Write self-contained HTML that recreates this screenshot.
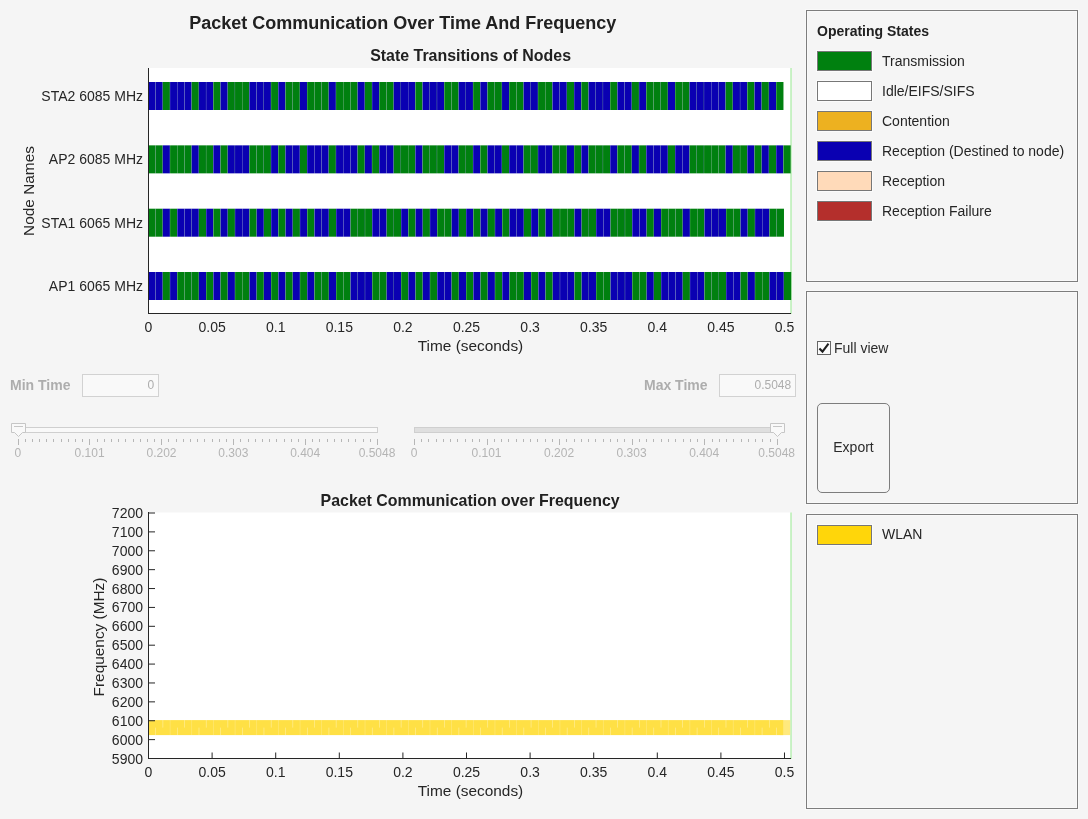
<!DOCTYPE html>
<html><head><meta charset="utf-8"><title>Packet Communication Over Time And Frequency</title>
<style>
html,body{margin:0;padding:0}
body{width:1088px;height:819px;background:#f5f5f5;position:relative;overflow:hidden;font-family:"Liberation Sans",Arial,Helvetica,sans-serif;color:#262626}
div{position:absolute;white-space:nowrap;box-sizing:border-box}
svg{position:absolute;left:0;top:0}
.t1{left:0;width:805.5px;top:13px;text-align:center;font-weight:bold;font-size:18px;line-height:20px;color:#212121}
.t2{font-weight:bold;font-size:15.93px;line-height:18px;text-align:center;color:#212121}
.xl{width:60px;text-align:center;font-size:14px;line-height:18px}
.yl{left:60px;width:83px;text-align:right;font-size:14px;line-height:18px}
.nl{left:20px;width:123px;text-align:right;font-size:14px;line-height:18px}
.al{font-size:15.4px;line-height:18px;text-align:center}
.sl{width:60px;text-align:center;top:446px;font-size:12px;line-height:14px;color:#b4b4b4}
.fl{font-weight:bold;font-size:14px;line-height:16px;color:#adadad;top:377px}
.inp{top:374px;height:23px;border:1px solid #d2d2d2;background:#f9f9f9;font-size:12px;line-height:21px;text-align:right;color:#adadad;padding-right:3.8px}
.panel{left:806px;width:272px;border:1px solid #7d7d7d;box-shadow:0 0 0 1px rgba(255,255,255,.38),inset 0 0 0 1px rgba(255,255,255,.38)}
.sw{left:817px;width:55px;height:20px;border:1px solid #777;box-shadow:0 0 0 1px rgba(255,255,255,.6)}
.lt{left:882px;font-size:14px;line-height:20px;color:#252525}
</style></head><body>
<div class="t1">Packet Communication Over Time And Frequency</div>
<div class="t2" style="left:149.1px;width:643px;top:46.5px">State Transitions of Nodes</div>
<div class="t2" style="left:148.6px;width:643px;top:492.2px">Packet Communication over Frequency</div>

<svg width="1088" height="819" viewBox="0 0 1088 819">
<rect x="148" y="68" width="642.5" height="245.5" fill="#fff"/>
<rect x="148" y="512.5" width="642.5" height="246" fill="#fff"/>
<rect x="790.1" y="68" width="1.9" height="246" fill="#c6f1c2"/>
<rect x="790.1" y="512.5" width="1.9" height="246.5" fill="#c6f1c2"/>
<rect x="148.45" y="82" width="7.00" height="28" fill="#0a00b2"/>
<rect x="155.45" y="82" width="0.13" height="28" fill="#00800f"/>
<rect x="155.67" y="82" width="7.00" height="28" fill="#0a00b2"/>
<rect x="162.66" y="82" width="0.13" height="28" fill="#00800f"/>
<rect x="162.88" y="82" width="7.00" height="28" fill="#00800f"/>
<rect x="169.88" y="82" width="0.13" height="28" fill="#0a00b2"/>
<rect x="170.10" y="82" width="7.00" height="28" fill="#0a00b2"/>
<rect x="177.09" y="82" width="0.13" height="28" fill="#00800f"/>
<rect x="177.31" y="82" width="7.00" height="28" fill="#0a00b2"/>
<rect x="184.31" y="82" width="0.13" height="28" fill="#00800f"/>
<rect x="184.53" y="82" width="7.00" height="28" fill="#0a00b2"/>
<rect x="191.53" y="82" width="0.13" height="28" fill="#00800f"/>
<rect x="191.75" y="82" width="7.00" height="28" fill="#00800f"/>
<rect x="198.74" y="82" width="0.13" height="28" fill="#0a00b2"/>
<rect x="198.96" y="82" width="7.00" height="28" fill="#0a00b2"/>
<rect x="205.96" y="82" width="0.13" height="28" fill="#00800f"/>
<rect x="206.18" y="82" width="7.00" height="28" fill="#0a00b2"/>
<rect x="213.17" y="82" width="0.13" height="28" fill="#00800f"/>
<rect x="213.39" y="82" width="7.00" height="28" fill="#00800f"/>
<rect x="220.39" y="82" width="0.13" height="28" fill="#0a00b2"/>
<rect x="220.61" y="82" width="7.00" height="28" fill="#0a00b2"/>
<rect x="227.61" y="82" width="0.13" height="28" fill="#00800f"/>
<rect x="227.83" y="82" width="7.00" height="28" fill="#00800f"/>
<rect x="234.82" y="82" width="0.13" height="28" fill="#0a00b2"/>
<rect x="235.04" y="82" width="7.00" height="28" fill="#00800f"/>
<rect x="242.04" y="82" width="0.13" height="28" fill="#0a00b2"/>
<rect x="242.26" y="82" width="7.00" height="28" fill="#00800f"/>
<rect x="249.25" y="82" width="0.13" height="28" fill="#0a00b2"/>
<rect x="249.47" y="82" width="7.00" height="28" fill="#0a00b2"/>
<rect x="256.47" y="82" width="0.13" height="28" fill="#00800f"/>
<rect x="256.69" y="82" width="7.00" height="28" fill="#0a00b2"/>
<rect x="263.69" y="82" width="0.13" height="28" fill="#00800f"/>
<rect x="263.91" y="82" width="7.00" height="28" fill="#0a00b2"/>
<rect x="270.90" y="82" width="0.13" height="28" fill="#00800f"/>
<rect x="271.12" y="82" width="7.00" height="28" fill="#00800f"/>
<rect x="278.12" y="82" width="0.13" height="28" fill="#0a00b2"/>
<rect x="278.34" y="82" width="7.00" height="28" fill="#0a00b2"/>
<rect x="285.33" y="82" width="0.13" height="28" fill="#00800f"/>
<rect x="285.55" y="82" width="7.00" height="28" fill="#00800f"/>
<rect x="292.55" y="82" width="0.13" height="28" fill="#0a00b2"/>
<rect x="292.77" y="82" width="7.00" height="28" fill="#00800f"/>
<rect x="299.77" y="82" width="0.13" height="28" fill="#0a00b2"/>
<rect x="299.99" y="82" width="7.00" height="28" fill="#0a00b2"/>
<rect x="306.98" y="82" width="0.13" height="28" fill="#00800f"/>
<rect x="307.20" y="82" width="7.00" height="28" fill="#00800f"/>
<rect x="314.20" y="82" width="0.13" height="28" fill="#0a00b2"/>
<rect x="314.42" y="82" width="7.00" height="28" fill="#00800f"/>
<rect x="321.41" y="82" width="0.13" height="28" fill="#0a00b2"/>
<rect x="321.63" y="82" width="7.00" height="28" fill="#00800f"/>
<rect x="328.63" y="82" width="0.13" height="28" fill="#0a00b2"/>
<rect x="328.85" y="82" width="7.00" height="28" fill="#0a00b2"/>
<rect x="335.85" y="82" width="0.13" height="28" fill="#00800f"/>
<rect x="336.07" y="82" width="7.00" height="28" fill="#00800f"/>
<rect x="343.06" y="82" width="0.13" height="28" fill="#0a00b2"/>
<rect x="343.28" y="82" width="7.00" height="28" fill="#00800f"/>
<rect x="350.28" y="82" width="0.13" height="28" fill="#0a00b2"/>
<rect x="350.50" y="82" width="7.00" height="28" fill="#00800f"/>
<rect x="357.49" y="82" width="0.13" height="28" fill="#0a00b2"/>
<rect x="357.71" y="82" width="7.00" height="28" fill="#0a00b2"/>
<rect x="364.71" y="82" width="0.13" height="28" fill="#00800f"/>
<rect x="364.93" y="82" width="7.00" height="28" fill="#00800f"/>
<rect x="371.93" y="82" width="0.13" height="28" fill="#0a00b2"/>
<rect x="372.15" y="82" width="7.00" height="28" fill="#0a00b2"/>
<rect x="379.14" y="82" width="0.13" height="28" fill="#00800f"/>
<rect x="379.36" y="82" width="7.00" height="28" fill="#00800f"/>
<rect x="386.36" y="82" width="0.13" height="28" fill="#0a00b2"/>
<rect x="386.58" y="82" width="7.00" height="28" fill="#00800f"/>
<rect x="393.57" y="82" width="0.13" height="28" fill="#0a00b2"/>
<rect x="393.79" y="82" width="7.00" height="28" fill="#0a00b2"/>
<rect x="400.79" y="82" width="0.13" height="28" fill="#00800f"/>
<rect x="401.01" y="82" width="7.00" height="28" fill="#0a00b2"/>
<rect x="408.01" y="82" width="0.13" height="28" fill="#00800f"/>
<rect x="408.23" y="82" width="7.00" height="28" fill="#0a00b2"/>
<rect x="415.22" y="82" width="0.13" height="28" fill="#00800f"/>
<rect x="415.44" y="82" width="7.00" height="28" fill="#00800f"/>
<rect x="422.44" y="82" width="0.13" height="28" fill="#0a00b2"/>
<rect x="422.66" y="82" width="7.00" height="28" fill="#0a00b2"/>
<rect x="429.65" y="82" width="0.13" height="28" fill="#00800f"/>
<rect x="429.87" y="82" width="7.00" height="28" fill="#0a00b2"/>
<rect x="436.87" y="82" width="0.13" height="28" fill="#00800f"/>
<rect x="437.09" y="82" width="7.00" height="28" fill="#0a00b2"/>
<rect x="444.09" y="82" width="0.13" height="28" fill="#00800f"/>
<rect x="444.31" y="82" width="7.00" height="28" fill="#00800f"/>
<rect x="451.30" y="82" width="0.13" height="28" fill="#0a00b2"/>
<rect x="451.52" y="82" width="7.00" height="28" fill="#00800f"/>
<rect x="458.52" y="82" width="0.13" height="28" fill="#0a00b2"/>
<rect x="458.74" y="82" width="7.00" height="28" fill="#0a00b2"/>
<rect x="465.73" y="82" width="0.13" height="28" fill="#00800f"/>
<rect x="465.95" y="82" width="7.00" height="28" fill="#0a00b2"/>
<rect x="472.95" y="82" width="0.13" height="28" fill="#00800f"/>
<rect x="473.17" y="82" width="7.00" height="28" fill="#00800f"/>
<rect x="480.17" y="82" width="0.13" height="28" fill="#0a00b2"/>
<rect x="480.39" y="82" width="7.00" height="28" fill="#0a00b2"/>
<rect x="487.38" y="82" width="0.13" height="28" fill="#00800f"/>
<rect x="487.60" y="82" width="7.00" height="28" fill="#00800f"/>
<rect x="494.60" y="82" width="0.13" height="28" fill="#0a00b2"/>
<rect x="494.82" y="82" width="7.00" height="28" fill="#00800f"/>
<rect x="501.81" y="82" width="0.13" height="28" fill="#0a00b2"/>
<rect x="502.03" y="82" width="7.00" height="28" fill="#0a00b2"/>
<rect x="509.03" y="82" width="0.13" height="28" fill="#00800f"/>
<rect x="509.25" y="82" width="7.00" height="28" fill="#00800f"/>
<rect x="516.25" y="82" width="0.13" height="28" fill="#0a00b2"/>
<rect x="516.47" y="82" width="7.00" height="28" fill="#00800f"/>
<rect x="523.46" y="82" width="0.13" height="28" fill="#0a00b2"/>
<rect x="523.68" y="82" width="7.00" height="28" fill="#0a00b2"/>
<rect x="530.68" y="82" width="0.13" height="28" fill="#00800f"/>
<rect x="530.90" y="82" width="7.00" height="28" fill="#0a00b2"/>
<rect x="537.89" y="82" width="0.13" height="28" fill="#00800f"/>
<rect x="538.11" y="82" width="7.00" height="28" fill="#00800f"/>
<rect x="545.11" y="82" width="0.13" height="28" fill="#0a00b2"/>
<rect x="545.33" y="82" width="7.00" height="28" fill="#00800f"/>
<rect x="552.33" y="82" width="0.13" height="28" fill="#0a00b2"/>
<rect x="552.55" y="82" width="7.00" height="28" fill="#0a00b2"/>
<rect x="559.54" y="82" width="0.13" height="28" fill="#00800f"/>
<rect x="559.76" y="82" width="7.00" height="28" fill="#0a00b2"/>
<rect x="566.76" y="82" width="0.13" height="28" fill="#00800f"/>
<rect x="566.98" y="82" width="7.00" height="28" fill="#00800f"/>
<rect x="573.97" y="82" width="0.13" height="28" fill="#0a00b2"/>
<rect x="574.19" y="82" width="7.00" height="28" fill="#0a00b2"/>
<rect x="581.19" y="82" width="0.13" height="28" fill="#00800f"/>
<rect x="581.41" y="82" width="7.00" height="28" fill="#00800f"/>
<rect x="588.41" y="82" width="0.13" height="28" fill="#0a00b2"/>
<rect x="588.63" y="82" width="7.00" height="28" fill="#0a00b2"/>
<rect x="595.62" y="82" width="0.13" height="28" fill="#00800f"/>
<rect x="595.84" y="82" width="7.00" height="28" fill="#0a00b2"/>
<rect x="602.84" y="82" width="0.13" height="28" fill="#00800f"/>
<rect x="603.06" y="82" width="7.00" height="28" fill="#0a00b2"/>
<rect x="610.05" y="82" width="0.13" height="28" fill="#00800f"/>
<rect x="610.27" y="82" width="7.00" height="28" fill="#00800f"/>
<rect x="617.27" y="82" width="0.13" height="28" fill="#0a00b2"/>
<rect x="617.49" y="82" width="7.00" height="28" fill="#0a00b2"/>
<rect x="624.49" y="82" width="0.13" height="28" fill="#00800f"/>
<rect x="624.71" y="82" width="7.00" height="28" fill="#0a00b2"/>
<rect x="631.70" y="82" width="0.13" height="28" fill="#00800f"/>
<rect x="631.92" y="82" width="7.00" height="28" fill="#00800f"/>
<rect x="638.92" y="82" width="0.13" height="28" fill="#0a00b2"/>
<rect x="639.14" y="82" width="7.00" height="28" fill="#0a00b2"/>
<rect x="646.13" y="82" width="0.13" height="28" fill="#00800f"/>
<rect x="646.35" y="82" width="7.00" height="28" fill="#00800f"/>
<rect x="653.35" y="82" width="0.13" height="28" fill="#0a00b2"/>
<rect x="653.57" y="82" width="7.00" height="28" fill="#00800f"/>
<rect x="660.57" y="82" width="0.13" height="28" fill="#0a00b2"/>
<rect x="660.79" y="82" width="7.00" height="28" fill="#00800f"/>
<rect x="667.78" y="82" width="0.13" height="28" fill="#0a00b2"/>
<rect x="668.00" y="82" width="7.00" height="28" fill="#0a00b2"/>
<rect x="675.00" y="82" width="0.13" height="28" fill="#00800f"/>
<rect x="675.22" y="82" width="7.00" height="28" fill="#00800f"/>
<rect x="682.21" y="82" width="0.13" height="28" fill="#0a00b2"/>
<rect x="682.43" y="82" width="7.00" height="28" fill="#00800f"/>
<rect x="689.43" y="82" width="0.13" height="28" fill="#0a00b2"/>
<rect x="689.65" y="82" width="7.00" height="28" fill="#0a00b2"/>
<rect x="696.65" y="82" width="0.13" height="28" fill="#00800f"/>
<rect x="696.87" y="82" width="7.00" height="28" fill="#0a00b2"/>
<rect x="703.86" y="82" width="0.13" height="28" fill="#00800f"/>
<rect x="704.08" y="82" width="7.00" height="28" fill="#0a00b2"/>
<rect x="711.08" y="82" width="0.13" height="28" fill="#00800f"/>
<rect x="711.30" y="82" width="7.00" height="28" fill="#0a00b2"/>
<rect x="718.29" y="82" width="0.13" height="28" fill="#00800f"/>
<rect x="718.51" y="82" width="7.00" height="28" fill="#0a00b2"/>
<rect x="725.51" y="82" width="0.13" height="28" fill="#00800f"/>
<rect x="725.73" y="82" width="7.00" height="28" fill="#00800f"/>
<rect x="732.73" y="82" width="0.13" height="28" fill="#0a00b2"/>
<rect x="732.95" y="82" width="7.00" height="28" fill="#0a00b2"/>
<rect x="739.94" y="82" width="0.13" height="28" fill="#00800f"/>
<rect x="740.16" y="82" width="7.00" height="28" fill="#0a00b2"/>
<rect x="747.16" y="82" width="0.13" height="28" fill="#00800f"/>
<rect x="747.38" y="82" width="7.00" height="28" fill="#00800f"/>
<rect x="754.37" y="82" width="0.13" height="28" fill="#0a00b2"/>
<rect x="754.59" y="82" width="7.00" height="28" fill="#0a00b2"/>
<rect x="761.59" y="82" width="0.13" height="28" fill="#00800f"/>
<rect x="761.81" y="82" width="7.00" height="28" fill="#00800f"/>
<rect x="768.81" y="82" width="0.13" height="28" fill="#0a00b2"/>
<rect x="769.03" y="82" width="7.00" height="28" fill="#0a00b2"/>
<rect x="776.02" y="82" width="0.13" height="28" fill="#00800f"/>
<rect x="776.24" y="82" width="7.22" height="28" fill="#00800f"/>
<rect x="148.45" y="145.35" width="7.00" height="28" fill="#00800f"/>
<rect x="155.45" y="145.35" width="0.13" height="28" fill="#0a00b2"/>
<rect x="155.67" y="145.35" width="7.00" height="28" fill="#00800f"/>
<rect x="162.66" y="145.35" width="0.13" height="28" fill="#0a00b2"/>
<rect x="162.88" y="145.35" width="7.00" height="28" fill="#0a00b2"/>
<rect x="169.88" y="145.35" width="0.13" height="28" fill="#00800f"/>
<rect x="170.10" y="145.35" width="7.00" height="28" fill="#00800f"/>
<rect x="177.09" y="145.35" width="0.13" height="28" fill="#0a00b2"/>
<rect x="177.31" y="145.35" width="7.00" height="28" fill="#00800f"/>
<rect x="184.31" y="145.35" width="0.13" height="28" fill="#0a00b2"/>
<rect x="184.53" y="145.35" width="7.00" height="28" fill="#00800f"/>
<rect x="191.53" y="145.35" width="0.13" height="28" fill="#0a00b2"/>
<rect x="191.75" y="145.35" width="7.00" height="28" fill="#0a00b2"/>
<rect x="198.74" y="145.35" width="0.13" height="28" fill="#00800f"/>
<rect x="198.96" y="145.35" width="7.00" height="28" fill="#00800f"/>
<rect x="205.96" y="145.35" width="0.13" height="28" fill="#0a00b2"/>
<rect x="206.18" y="145.35" width="7.00" height="28" fill="#00800f"/>
<rect x="213.17" y="145.35" width="0.13" height="28" fill="#0a00b2"/>
<rect x="213.39" y="145.35" width="7.00" height="28" fill="#0a00b2"/>
<rect x="220.39" y="145.35" width="0.13" height="28" fill="#00800f"/>
<rect x="220.61" y="145.35" width="7.00" height="28" fill="#00800f"/>
<rect x="227.61" y="145.35" width="0.13" height="28" fill="#0a00b2"/>
<rect x="227.83" y="145.35" width="7.00" height="28" fill="#0a00b2"/>
<rect x="234.82" y="145.35" width="0.13" height="28" fill="#00800f"/>
<rect x="235.04" y="145.35" width="7.00" height="28" fill="#0a00b2"/>
<rect x="242.04" y="145.35" width="0.13" height="28" fill="#00800f"/>
<rect x="242.26" y="145.35" width="7.00" height="28" fill="#0a00b2"/>
<rect x="249.25" y="145.35" width="0.13" height="28" fill="#00800f"/>
<rect x="249.47" y="145.35" width="7.00" height="28" fill="#00800f"/>
<rect x="256.47" y="145.35" width="0.13" height="28" fill="#0a00b2"/>
<rect x="256.69" y="145.35" width="7.00" height="28" fill="#00800f"/>
<rect x="263.69" y="145.35" width="0.13" height="28" fill="#0a00b2"/>
<rect x="263.91" y="145.35" width="7.00" height="28" fill="#00800f"/>
<rect x="270.90" y="145.35" width="0.13" height="28" fill="#0a00b2"/>
<rect x="271.12" y="145.35" width="7.00" height="28" fill="#0a00b2"/>
<rect x="278.12" y="145.35" width="0.13" height="28" fill="#00800f"/>
<rect x="278.34" y="145.35" width="7.00" height="28" fill="#00800f"/>
<rect x="285.33" y="145.35" width="0.13" height="28" fill="#0a00b2"/>
<rect x="285.55" y="145.35" width="7.00" height="28" fill="#0a00b2"/>
<rect x="292.55" y="145.35" width="0.13" height="28" fill="#00800f"/>
<rect x="292.77" y="145.35" width="7.00" height="28" fill="#0a00b2"/>
<rect x="299.77" y="145.35" width="0.13" height="28" fill="#00800f"/>
<rect x="299.99" y="145.35" width="7.00" height="28" fill="#00800f"/>
<rect x="306.98" y="145.35" width="0.13" height="28" fill="#0a00b2"/>
<rect x="307.20" y="145.35" width="7.00" height="28" fill="#0a00b2"/>
<rect x="314.20" y="145.35" width="0.13" height="28" fill="#00800f"/>
<rect x="314.42" y="145.35" width="7.00" height="28" fill="#0a00b2"/>
<rect x="321.41" y="145.35" width="0.13" height="28" fill="#00800f"/>
<rect x="321.63" y="145.35" width="7.00" height="28" fill="#0a00b2"/>
<rect x="328.63" y="145.35" width="0.13" height="28" fill="#00800f"/>
<rect x="328.85" y="145.35" width="7.00" height="28" fill="#00800f"/>
<rect x="335.85" y="145.35" width="0.13" height="28" fill="#0a00b2"/>
<rect x="336.07" y="145.35" width="7.00" height="28" fill="#0a00b2"/>
<rect x="343.06" y="145.35" width="0.13" height="28" fill="#00800f"/>
<rect x="343.28" y="145.35" width="7.00" height="28" fill="#0a00b2"/>
<rect x="350.28" y="145.35" width="0.13" height="28" fill="#00800f"/>
<rect x="350.50" y="145.35" width="7.00" height="28" fill="#0a00b2"/>
<rect x="357.49" y="145.35" width="0.13" height="28" fill="#00800f"/>
<rect x="357.71" y="145.35" width="7.00" height="28" fill="#00800f"/>
<rect x="364.71" y="145.35" width="0.13" height="28" fill="#0a00b2"/>
<rect x="364.93" y="145.35" width="7.00" height="28" fill="#0a00b2"/>
<rect x="371.93" y="145.35" width="0.13" height="28" fill="#00800f"/>
<rect x="372.15" y="145.35" width="7.00" height="28" fill="#00800f"/>
<rect x="379.14" y="145.35" width="0.13" height="28" fill="#0a00b2"/>
<rect x="379.36" y="145.35" width="7.00" height="28" fill="#0a00b2"/>
<rect x="386.36" y="145.35" width="0.13" height="28" fill="#00800f"/>
<rect x="386.58" y="145.35" width="7.00" height="28" fill="#0a00b2"/>
<rect x="393.57" y="145.35" width="0.13" height="28" fill="#00800f"/>
<rect x="393.79" y="145.35" width="7.00" height="28" fill="#00800f"/>
<rect x="400.79" y="145.35" width="0.13" height="28" fill="#0a00b2"/>
<rect x="401.01" y="145.35" width="7.00" height="28" fill="#00800f"/>
<rect x="408.01" y="145.35" width="0.13" height="28" fill="#0a00b2"/>
<rect x="408.23" y="145.35" width="7.00" height="28" fill="#00800f"/>
<rect x="415.22" y="145.35" width="0.13" height="28" fill="#0a00b2"/>
<rect x="415.44" y="145.35" width="7.00" height="28" fill="#0a00b2"/>
<rect x="422.44" y="145.35" width="0.13" height="28" fill="#00800f"/>
<rect x="422.66" y="145.35" width="7.00" height="28" fill="#00800f"/>
<rect x="429.65" y="145.35" width="0.13" height="28" fill="#0a00b2"/>
<rect x="429.87" y="145.35" width="7.00" height="28" fill="#00800f"/>
<rect x="436.87" y="145.35" width="0.13" height="28" fill="#0a00b2"/>
<rect x="437.09" y="145.35" width="7.00" height="28" fill="#00800f"/>
<rect x="444.09" y="145.35" width="0.13" height="28" fill="#0a00b2"/>
<rect x="444.31" y="145.35" width="7.00" height="28" fill="#0a00b2"/>
<rect x="451.30" y="145.35" width="0.13" height="28" fill="#00800f"/>
<rect x="451.52" y="145.35" width="7.00" height="28" fill="#0a00b2"/>
<rect x="458.52" y="145.35" width="0.13" height="28" fill="#00800f"/>
<rect x="458.74" y="145.35" width="7.00" height="28" fill="#00800f"/>
<rect x="465.73" y="145.35" width="0.13" height="28" fill="#0a00b2"/>
<rect x="465.95" y="145.35" width="7.00" height="28" fill="#00800f"/>
<rect x="472.95" y="145.35" width="0.13" height="28" fill="#0a00b2"/>
<rect x="473.17" y="145.35" width="7.00" height="28" fill="#0a00b2"/>
<rect x="480.17" y="145.35" width="0.13" height="28" fill="#00800f"/>
<rect x="480.39" y="145.35" width="7.00" height="28" fill="#00800f"/>
<rect x="487.38" y="145.35" width="0.13" height="28" fill="#0a00b2"/>
<rect x="487.60" y="145.35" width="7.00" height="28" fill="#0a00b2"/>
<rect x="494.60" y="145.35" width="0.13" height="28" fill="#00800f"/>
<rect x="494.82" y="145.35" width="7.00" height="28" fill="#0a00b2"/>
<rect x="501.81" y="145.35" width="0.13" height="28" fill="#00800f"/>
<rect x="502.03" y="145.35" width="7.00" height="28" fill="#00800f"/>
<rect x="509.03" y="145.35" width="0.13" height="28" fill="#0a00b2"/>
<rect x="509.25" y="145.35" width="7.00" height="28" fill="#0a00b2"/>
<rect x="516.25" y="145.35" width="0.13" height="28" fill="#00800f"/>
<rect x="516.47" y="145.35" width="7.00" height="28" fill="#0a00b2"/>
<rect x="523.46" y="145.35" width="0.13" height="28" fill="#00800f"/>
<rect x="523.68" y="145.35" width="7.00" height="28" fill="#00800f"/>
<rect x="530.68" y="145.35" width="0.13" height="28" fill="#0a00b2"/>
<rect x="530.90" y="145.35" width="7.00" height="28" fill="#00800f"/>
<rect x="537.89" y="145.35" width="0.13" height="28" fill="#0a00b2"/>
<rect x="538.11" y="145.35" width="7.00" height="28" fill="#0a00b2"/>
<rect x="545.11" y="145.35" width="0.13" height="28" fill="#00800f"/>
<rect x="545.33" y="145.35" width="7.00" height="28" fill="#0a00b2"/>
<rect x="552.33" y="145.35" width="0.13" height="28" fill="#00800f"/>
<rect x="552.55" y="145.35" width="7.00" height="28" fill="#00800f"/>
<rect x="559.54" y="145.35" width="0.13" height="28" fill="#0a00b2"/>
<rect x="559.76" y="145.35" width="7.00" height="28" fill="#00800f"/>
<rect x="566.76" y="145.35" width="0.13" height="28" fill="#0a00b2"/>
<rect x="566.98" y="145.35" width="7.00" height="28" fill="#0a00b2"/>
<rect x="573.97" y="145.35" width="0.13" height="28" fill="#00800f"/>
<rect x="574.19" y="145.35" width="7.00" height="28" fill="#00800f"/>
<rect x="581.19" y="145.35" width="0.13" height="28" fill="#0a00b2"/>
<rect x="581.41" y="145.35" width="7.00" height="28" fill="#0a00b2"/>
<rect x="588.41" y="145.35" width="0.13" height="28" fill="#00800f"/>
<rect x="588.63" y="145.35" width="7.00" height="28" fill="#00800f"/>
<rect x="595.62" y="145.35" width="0.13" height="28" fill="#0a00b2"/>
<rect x="595.84" y="145.35" width="7.00" height="28" fill="#00800f"/>
<rect x="602.84" y="145.35" width="0.13" height="28" fill="#0a00b2"/>
<rect x="603.06" y="145.35" width="7.00" height="28" fill="#00800f"/>
<rect x="610.05" y="145.35" width="0.13" height="28" fill="#0a00b2"/>
<rect x="610.27" y="145.35" width="7.00" height="28" fill="#0a00b2"/>
<rect x="617.27" y="145.35" width="0.13" height="28" fill="#00800f"/>
<rect x="617.49" y="145.35" width="7.00" height="28" fill="#00800f"/>
<rect x="624.49" y="145.35" width="0.13" height="28" fill="#0a00b2"/>
<rect x="624.71" y="145.35" width="7.00" height="28" fill="#00800f"/>
<rect x="631.70" y="145.35" width="0.13" height="28" fill="#0a00b2"/>
<rect x="631.92" y="145.35" width="7.00" height="28" fill="#0a00b2"/>
<rect x="638.92" y="145.35" width="0.13" height="28" fill="#00800f"/>
<rect x="639.14" y="145.35" width="7.00" height="28" fill="#00800f"/>
<rect x="646.13" y="145.35" width="0.13" height="28" fill="#0a00b2"/>
<rect x="646.35" y="145.35" width="7.00" height="28" fill="#0a00b2"/>
<rect x="653.35" y="145.35" width="0.13" height="28" fill="#00800f"/>
<rect x="653.57" y="145.35" width="7.00" height="28" fill="#0a00b2"/>
<rect x="660.57" y="145.35" width="0.13" height="28" fill="#00800f"/>
<rect x="660.79" y="145.35" width="7.00" height="28" fill="#0a00b2"/>
<rect x="667.78" y="145.35" width="0.13" height="28" fill="#00800f"/>
<rect x="668.00" y="145.35" width="7.00" height="28" fill="#00800f"/>
<rect x="675.00" y="145.35" width="0.13" height="28" fill="#0a00b2"/>
<rect x="675.22" y="145.35" width="7.00" height="28" fill="#0a00b2"/>
<rect x="682.21" y="145.35" width="0.13" height="28" fill="#00800f"/>
<rect x="682.43" y="145.35" width="7.00" height="28" fill="#0a00b2"/>
<rect x="689.43" y="145.35" width="0.13" height="28" fill="#00800f"/>
<rect x="689.65" y="145.35" width="7.00" height="28" fill="#00800f"/>
<rect x="696.65" y="145.35" width="0.13" height="28" fill="#0a00b2"/>
<rect x="696.87" y="145.35" width="7.00" height="28" fill="#00800f"/>
<rect x="703.86" y="145.35" width="0.13" height="28" fill="#0a00b2"/>
<rect x="704.08" y="145.35" width="7.00" height="28" fill="#00800f"/>
<rect x="711.08" y="145.35" width="0.13" height="28" fill="#0a00b2"/>
<rect x="711.30" y="145.35" width="7.00" height="28" fill="#00800f"/>
<rect x="718.29" y="145.35" width="0.13" height="28" fill="#0a00b2"/>
<rect x="718.51" y="145.35" width="7.00" height="28" fill="#00800f"/>
<rect x="725.51" y="145.35" width="0.13" height="28" fill="#0a00b2"/>
<rect x="725.73" y="145.35" width="7.00" height="28" fill="#0a00b2"/>
<rect x="732.73" y="145.35" width="0.13" height="28" fill="#00800f"/>
<rect x="732.95" y="145.35" width="7.00" height="28" fill="#00800f"/>
<rect x="739.94" y="145.35" width="0.13" height="28" fill="#0a00b2"/>
<rect x="740.16" y="145.35" width="7.00" height="28" fill="#00800f"/>
<rect x="747.16" y="145.35" width="0.13" height="28" fill="#0a00b2"/>
<rect x="747.38" y="145.35" width="7.00" height="28" fill="#0a00b2"/>
<rect x="754.37" y="145.35" width="0.13" height="28" fill="#00800f"/>
<rect x="754.59" y="145.35" width="7.00" height="28" fill="#00800f"/>
<rect x="761.59" y="145.35" width="0.13" height="28" fill="#0a00b2"/>
<rect x="761.81" y="145.35" width="7.00" height="28" fill="#0a00b2"/>
<rect x="768.81" y="145.35" width="0.13" height="28" fill="#00800f"/>
<rect x="769.03" y="145.35" width="7.00" height="28" fill="#00800f"/>
<rect x="776.02" y="145.35" width="0.13" height="28" fill="#0a00b2"/>
<rect x="776.24" y="145.35" width="7.00" height="28" fill="#0a00b2"/>
<rect x="783.24" y="145.35" width="0.13" height="28" fill="#00800f"/>
<rect x="783.46" y="145.35" width="7.22" height="28" fill="#00800f"/>
<rect x="148.45" y="208.7" width="7.00" height="28" fill="#00800f"/>
<rect x="155.45" y="208.7" width="0.13" height="28" fill="#0a00b2"/>
<rect x="155.67" y="208.7" width="7.00" height="28" fill="#00800f"/>
<rect x="162.67" y="208.7" width="0.13" height="28" fill="#0a00b2"/>
<rect x="162.89" y="208.7" width="7.00" height="28" fill="#0a00b2"/>
<rect x="169.90" y="208.7" width="0.13" height="28" fill="#00800f"/>
<rect x="170.12" y="208.7" width="7.00" height="28" fill="#00800f"/>
<rect x="177.12" y="208.7" width="0.13" height="28" fill="#0a00b2"/>
<rect x="177.34" y="208.7" width="7.00" height="28" fill="#0a00b2"/>
<rect x="184.34" y="208.7" width="0.13" height="28" fill="#00800f"/>
<rect x="184.56" y="208.7" width="7.00" height="28" fill="#0a00b2"/>
<rect x="191.56" y="208.7" width="0.13" height="28" fill="#00800f"/>
<rect x="191.78" y="208.7" width="7.00" height="28" fill="#0a00b2"/>
<rect x="198.78" y="208.7" width="0.13" height="28" fill="#00800f"/>
<rect x="199.00" y="208.7" width="7.00" height="28" fill="#00800f"/>
<rect x="206.01" y="208.7" width="0.13" height="28" fill="#0a00b2"/>
<rect x="206.23" y="208.7" width="7.00" height="28" fill="#0a00b2"/>
<rect x="213.23" y="208.7" width="0.13" height="28" fill="#00800f"/>
<rect x="213.45" y="208.7" width="7.00" height="28" fill="#00800f"/>
<rect x="220.45" y="208.7" width="0.13" height="28" fill="#0a00b2"/>
<rect x="220.67" y="208.7" width="7.00" height="28" fill="#0a00b2"/>
<rect x="227.67" y="208.7" width="0.13" height="28" fill="#00800f"/>
<rect x="227.89" y="208.7" width="7.00" height="28" fill="#00800f"/>
<rect x="234.89" y="208.7" width="0.13" height="28" fill="#0a00b2"/>
<rect x="235.11" y="208.7" width="7.00" height="28" fill="#0a00b2"/>
<rect x="242.12" y="208.7" width="0.13" height="28" fill="#00800f"/>
<rect x="242.34" y="208.7" width="7.00" height="28" fill="#0a00b2"/>
<rect x="249.34" y="208.7" width="0.13" height="28" fill="#00800f"/>
<rect x="249.56" y="208.7" width="7.00" height="28" fill="#00800f"/>
<rect x="256.56" y="208.7" width="0.13" height="28" fill="#0a00b2"/>
<rect x="256.78" y="208.7" width="7.00" height="28" fill="#0a00b2"/>
<rect x="263.78" y="208.7" width="0.13" height="28" fill="#00800f"/>
<rect x="264.00" y="208.7" width="7.00" height="28" fill="#00800f"/>
<rect x="271.00" y="208.7" width="0.13" height="28" fill="#0a00b2"/>
<rect x="271.22" y="208.7" width="7.00" height="28" fill="#0a00b2"/>
<rect x="278.23" y="208.7" width="0.13" height="28" fill="#00800f"/>
<rect x="278.45" y="208.7" width="7.00" height="28" fill="#00800f"/>
<rect x="285.45" y="208.7" width="0.13" height="28" fill="#0a00b2"/>
<rect x="285.67" y="208.7" width="7.00" height="28" fill="#0a00b2"/>
<rect x="292.67" y="208.7" width="0.13" height="28" fill="#00800f"/>
<rect x="292.89" y="208.7" width="7.00" height="28" fill="#00800f"/>
<rect x="299.89" y="208.7" width="0.13" height="28" fill="#0a00b2"/>
<rect x="300.11" y="208.7" width="7.00" height="28" fill="#0a00b2"/>
<rect x="307.11" y="208.7" width="0.13" height="28" fill="#00800f"/>
<rect x="307.33" y="208.7" width="7.00" height="28" fill="#00800f"/>
<rect x="314.34" y="208.7" width="0.13" height="28" fill="#0a00b2"/>
<rect x="314.56" y="208.7" width="7.00" height="28" fill="#0a00b2"/>
<rect x="321.56" y="208.7" width="0.13" height="28" fill="#00800f"/>
<rect x="321.78" y="208.7" width="7.00" height="28" fill="#0a00b2"/>
<rect x="328.78" y="208.7" width="0.13" height="28" fill="#00800f"/>
<rect x="329.00" y="208.7" width="7.00" height="28" fill="#00800f"/>
<rect x="336.00" y="208.7" width="0.13" height="28" fill="#0a00b2"/>
<rect x="336.22" y="208.7" width="7.00" height="28" fill="#0a00b2"/>
<rect x="343.22" y="208.7" width="0.13" height="28" fill="#00800f"/>
<rect x="343.44" y="208.7" width="7.00" height="28" fill="#0a00b2"/>
<rect x="350.45" y="208.7" width="0.13" height="28" fill="#00800f"/>
<rect x="350.67" y="208.7" width="7.00" height="28" fill="#00800f"/>
<rect x="357.67" y="208.7" width="0.13" height="28" fill="#0a00b2"/>
<rect x="357.89" y="208.7" width="7.00" height="28" fill="#00800f"/>
<rect x="364.89" y="208.7" width="0.13" height="28" fill="#0a00b2"/>
<rect x="365.11" y="208.7" width="7.00" height="28" fill="#00800f"/>
<rect x="372.11" y="208.7" width="0.13" height="28" fill="#0a00b2"/>
<rect x="372.33" y="208.7" width="7.00" height="28" fill="#0a00b2"/>
<rect x="379.33" y="208.7" width="0.13" height="28" fill="#00800f"/>
<rect x="379.55" y="208.7" width="7.00" height="28" fill="#0a00b2"/>
<rect x="386.56" y="208.7" width="0.13" height="28" fill="#00800f"/>
<rect x="386.78" y="208.7" width="7.00" height="28" fill="#00800f"/>
<rect x="393.78" y="208.7" width="0.13" height="28" fill="#0a00b2"/>
<rect x="394.00" y="208.7" width="7.00" height="28" fill="#00800f"/>
<rect x="401.00" y="208.7" width="0.13" height="28" fill="#0a00b2"/>
<rect x="401.22" y="208.7" width="7.00" height="28" fill="#0a00b2"/>
<rect x="408.22" y="208.7" width="0.13" height="28" fill="#00800f"/>
<rect x="408.44" y="208.7" width="7.00" height="28" fill="#00800f"/>
<rect x="415.44" y="208.7" width="0.13" height="28" fill="#0a00b2"/>
<rect x="415.66" y="208.7" width="7.00" height="28" fill="#0a00b2"/>
<rect x="422.67" y="208.7" width="0.13" height="28" fill="#00800f"/>
<rect x="422.89" y="208.7" width="7.00" height="28" fill="#00800f"/>
<rect x="429.89" y="208.7" width="0.13" height="28" fill="#0a00b2"/>
<rect x="430.11" y="208.7" width="7.00" height="28" fill="#0a00b2"/>
<rect x="437.11" y="208.7" width="0.13" height="28" fill="#00800f"/>
<rect x="437.33" y="208.7" width="7.00" height="28" fill="#00800f"/>
<rect x="444.33" y="208.7" width="0.13" height="28" fill="#0a00b2"/>
<rect x="444.55" y="208.7" width="7.00" height="28" fill="#00800f"/>
<rect x="451.55" y="208.7" width="0.13" height="28" fill="#0a00b2"/>
<rect x="451.77" y="208.7" width="7.00" height="28" fill="#0a00b2"/>
<rect x="458.78" y="208.7" width="0.13" height="28" fill="#00800f"/>
<rect x="459.00" y="208.7" width="7.00" height="28" fill="#00800f"/>
<rect x="466.00" y="208.7" width="0.13" height="28" fill="#0a00b2"/>
<rect x="466.22" y="208.7" width="7.00" height="28" fill="#0a00b2"/>
<rect x="473.22" y="208.7" width="0.13" height="28" fill="#00800f"/>
<rect x="473.44" y="208.7" width="7.00" height="28" fill="#00800f"/>
<rect x="480.44" y="208.7" width="0.13" height="28" fill="#0a00b2"/>
<rect x="480.66" y="208.7" width="7.00" height="28" fill="#0a00b2"/>
<rect x="487.66" y="208.7" width="0.13" height="28" fill="#00800f"/>
<rect x="487.88" y="208.7" width="7.00" height="28" fill="#00800f"/>
<rect x="494.89" y="208.7" width="0.13" height="28" fill="#0a00b2"/>
<rect x="495.11" y="208.7" width="7.00" height="28" fill="#0a00b2"/>
<rect x="502.11" y="208.7" width="0.13" height="28" fill="#00800f"/>
<rect x="502.33" y="208.7" width="7.00" height="28" fill="#00800f"/>
<rect x="509.33" y="208.7" width="0.13" height="28" fill="#0a00b2"/>
<rect x="509.55" y="208.7" width="7.00" height="28" fill="#0a00b2"/>
<rect x="516.55" y="208.7" width="0.13" height="28" fill="#00800f"/>
<rect x="516.77" y="208.7" width="7.00" height="28" fill="#0a00b2"/>
<rect x="523.77" y="208.7" width="0.13" height="28" fill="#00800f"/>
<rect x="523.99" y="208.7" width="7.00" height="28" fill="#00800f"/>
<rect x="531.00" y="208.7" width="0.13" height="28" fill="#0a00b2"/>
<rect x="531.22" y="208.7" width="7.00" height="28" fill="#0a00b2"/>
<rect x="538.22" y="208.7" width="0.13" height="28" fill="#00800f"/>
<rect x="538.44" y="208.7" width="7.00" height="28" fill="#00800f"/>
<rect x="545.44" y="208.7" width="0.13" height="28" fill="#0a00b2"/>
<rect x="545.66" y="208.7" width="7.00" height="28" fill="#0a00b2"/>
<rect x="552.66" y="208.7" width="0.13" height="28" fill="#00800f"/>
<rect x="552.88" y="208.7" width="7.00" height="28" fill="#00800f"/>
<rect x="559.88" y="208.7" width="0.13" height="28" fill="#0a00b2"/>
<rect x="560.10" y="208.7" width="7.00" height="28" fill="#00800f"/>
<rect x="567.11" y="208.7" width="0.13" height="28" fill="#0a00b2"/>
<rect x="567.33" y="208.7" width="7.00" height="28" fill="#00800f"/>
<rect x="574.33" y="208.7" width="0.13" height="28" fill="#0a00b2"/>
<rect x="574.55" y="208.7" width="7.00" height="28" fill="#0a00b2"/>
<rect x="581.55" y="208.7" width="0.13" height="28" fill="#00800f"/>
<rect x="581.77" y="208.7" width="7.00" height="28" fill="#00800f"/>
<rect x="588.77" y="208.7" width="0.13" height="28" fill="#0a00b2"/>
<rect x="588.99" y="208.7" width="7.00" height="28" fill="#00800f"/>
<rect x="595.99" y="208.7" width="0.13" height="28" fill="#0a00b2"/>
<rect x="596.21" y="208.7" width="7.00" height="28" fill="#0a00b2"/>
<rect x="603.22" y="208.7" width="0.13" height="28" fill="#00800f"/>
<rect x="603.44" y="208.7" width="7.00" height="28" fill="#0a00b2"/>
<rect x="610.44" y="208.7" width="0.13" height="28" fill="#00800f"/>
<rect x="610.66" y="208.7" width="7.00" height="28" fill="#00800f"/>
<rect x="617.66" y="208.7" width="0.13" height="28" fill="#0a00b2"/>
<rect x="617.88" y="208.7" width="7.00" height="28" fill="#00800f"/>
<rect x="624.88" y="208.7" width="0.13" height="28" fill="#0a00b2"/>
<rect x="625.10" y="208.7" width="7.00" height="28" fill="#00800f"/>
<rect x="632.10" y="208.7" width="0.13" height="28" fill="#0a00b2"/>
<rect x="632.32" y="208.7" width="7.00" height="28" fill="#0a00b2"/>
<rect x="639.33" y="208.7" width="0.13" height="28" fill="#00800f"/>
<rect x="639.55" y="208.7" width="7.00" height="28" fill="#0a00b2"/>
<rect x="646.55" y="208.7" width="0.13" height="28" fill="#00800f"/>
<rect x="646.77" y="208.7" width="7.00" height="28" fill="#00800f"/>
<rect x="653.77" y="208.7" width="0.13" height="28" fill="#0a00b2"/>
<rect x="653.99" y="208.7" width="7.00" height="28" fill="#0a00b2"/>
<rect x="660.99" y="208.7" width="0.13" height="28" fill="#00800f"/>
<rect x="661.21" y="208.7" width="7.00" height="28" fill="#00800f"/>
<rect x="668.21" y="208.7" width="0.13" height="28" fill="#0a00b2"/>
<rect x="668.43" y="208.7" width="7.00" height="28" fill="#00800f"/>
<rect x="675.44" y="208.7" width="0.13" height="28" fill="#0a00b2"/>
<rect x="675.66" y="208.7" width="7.00" height="28" fill="#00800f"/>
<rect x="682.66" y="208.7" width="0.13" height="28" fill="#0a00b2"/>
<rect x="682.88" y="208.7" width="7.00" height="28" fill="#0a00b2"/>
<rect x="689.88" y="208.7" width="0.13" height="28" fill="#00800f"/>
<rect x="690.10" y="208.7" width="7.00" height="28" fill="#00800f"/>
<rect x="697.10" y="208.7" width="0.13" height="28" fill="#0a00b2"/>
<rect x="697.32" y="208.7" width="7.00" height="28" fill="#00800f"/>
<rect x="704.32" y="208.7" width="0.13" height="28" fill="#0a00b2"/>
<rect x="704.54" y="208.7" width="7.00" height="28" fill="#0a00b2"/>
<rect x="711.55" y="208.7" width="0.13" height="28" fill="#00800f"/>
<rect x="711.77" y="208.7" width="7.00" height="28" fill="#0a00b2"/>
<rect x="718.77" y="208.7" width="0.13" height="28" fill="#00800f"/>
<rect x="718.99" y="208.7" width="7.00" height="28" fill="#0a00b2"/>
<rect x="725.99" y="208.7" width="0.13" height="28" fill="#00800f"/>
<rect x="726.21" y="208.7" width="7.00" height="28" fill="#00800f"/>
<rect x="733.21" y="208.7" width="0.13" height="28" fill="#0a00b2"/>
<rect x="733.43" y="208.7" width="7.00" height="28" fill="#00800f"/>
<rect x="740.43" y="208.7" width="0.13" height="28" fill="#0a00b2"/>
<rect x="740.65" y="208.7" width="7.00" height="28" fill="#0a00b2"/>
<rect x="747.66" y="208.7" width="0.13" height="28" fill="#00800f"/>
<rect x="747.88" y="208.7" width="7.00" height="28" fill="#00800f"/>
<rect x="754.88" y="208.7" width="0.13" height="28" fill="#0a00b2"/>
<rect x="755.10" y="208.7" width="7.00" height="28" fill="#0a00b2"/>
<rect x="762.10" y="208.7" width="0.13" height="28" fill="#00800f"/>
<rect x="762.32" y="208.7" width="7.00" height="28" fill="#0a00b2"/>
<rect x="769.32" y="208.7" width="0.13" height="28" fill="#00800f"/>
<rect x="769.54" y="208.7" width="7.00" height="28" fill="#00800f"/>
<rect x="776.54" y="208.7" width="0.13" height="28" fill="#0a00b2"/>
<rect x="776.76" y="208.7" width="7.22" height="28" fill="#00800f"/>
<rect x="148.45" y="272" width="7.00" height="28" fill="#0a00b2"/>
<rect x="155.45" y="272" width="0.13" height="28" fill="#00800f"/>
<rect x="155.67" y="272" width="7.00" height="28" fill="#0a00b2"/>
<rect x="162.67" y="272" width="0.13" height="28" fill="#00800f"/>
<rect x="162.89" y="272" width="7.00" height="28" fill="#00800f"/>
<rect x="169.90" y="272" width="0.13" height="28" fill="#0a00b2"/>
<rect x="170.12" y="272" width="7.00" height="28" fill="#0a00b2"/>
<rect x="177.12" y="272" width="0.13" height="28" fill="#00800f"/>
<rect x="177.34" y="272" width="7.00" height="28" fill="#00800f"/>
<rect x="184.34" y="272" width="0.13" height="28" fill="#0a00b2"/>
<rect x="184.56" y="272" width="7.00" height="28" fill="#00800f"/>
<rect x="191.56" y="272" width="0.13" height="28" fill="#0a00b2"/>
<rect x="191.78" y="272" width="7.00" height="28" fill="#00800f"/>
<rect x="198.78" y="272" width="0.13" height="28" fill="#0a00b2"/>
<rect x="199.00" y="272" width="7.00" height="28" fill="#0a00b2"/>
<rect x="206.01" y="272" width="0.13" height="28" fill="#00800f"/>
<rect x="206.23" y="272" width="7.00" height="28" fill="#00800f"/>
<rect x="213.23" y="272" width="0.13" height="28" fill="#0a00b2"/>
<rect x="213.45" y="272" width="7.00" height="28" fill="#0a00b2"/>
<rect x="220.45" y="272" width="0.13" height="28" fill="#00800f"/>
<rect x="220.67" y="272" width="7.00" height="28" fill="#00800f"/>
<rect x="227.67" y="272" width="0.13" height="28" fill="#0a00b2"/>
<rect x="227.89" y="272" width="7.00" height="28" fill="#0a00b2"/>
<rect x="234.89" y="272" width="0.13" height="28" fill="#00800f"/>
<rect x="235.11" y="272" width="7.00" height="28" fill="#00800f"/>
<rect x="242.12" y="272" width="0.13" height="28" fill="#0a00b2"/>
<rect x="242.34" y="272" width="7.00" height="28" fill="#00800f"/>
<rect x="249.34" y="272" width="0.13" height="28" fill="#0a00b2"/>
<rect x="249.56" y="272" width="7.00" height="28" fill="#0a00b2"/>
<rect x="256.56" y="272" width="0.13" height="28" fill="#00800f"/>
<rect x="256.78" y="272" width="7.00" height="28" fill="#00800f"/>
<rect x="263.78" y="272" width="0.13" height="28" fill="#0a00b2"/>
<rect x="264.00" y="272" width="7.00" height="28" fill="#0a00b2"/>
<rect x="271.00" y="272" width="0.13" height="28" fill="#00800f"/>
<rect x="271.22" y="272" width="7.00" height="28" fill="#00800f"/>
<rect x="278.23" y="272" width="0.13" height="28" fill="#0a00b2"/>
<rect x="278.45" y="272" width="7.00" height="28" fill="#0a00b2"/>
<rect x="285.45" y="272" width="0.13" height="28" fill="#00800f"/>
<rect x="285.67" y="272" width="7.00" height="28" fill="#00800f"/>
<rect x="292.67" y="272" width="0.13" height="28" fill="#0a00b2"/>
<rect x="292.89" y="272" width="7.00" height="28" fill="#0a00b2"/>
<rect x="299.89" y="272" width="0.13" height="28" fill="#00800f"/>
<rect x="300.11" y="272" width="7.00" height="28" fill="#00800f"/>
<rect x="307.11" y="272" width="0.13" height="28" fill="#0a00b2"/>
<rect x="307.33" y="272" width="7.00" height="28" fill="#0a00b2"/>
<rect x="314.34" y="272" width="0.13" height="28" fill="#00800f"/>
<rect x="314.56" y="272" width="7.00" height="28" fill="#00800f"/>
<rect x="321.56" y="272" width="0.13" height="28" fill="#0a00b2"/>
<rect x="321.78" y="272" width="7.00" height="28" fill="#00800f"/>
<rect x="328.78" y="272" width="0.13" height="28" fill="#0a00b2"/>
<rect x="329.00" y="272" width="7.00" height="28" fill="#0a00b2"/>
<rect x="336.00" y="272" width="0.13" height="28" fill="#00800f"/>
<rect x="336.22" y="272" width="7.00" height="28" fill="#00800f"/>
<rect x="343.22" y="272" width="0.13" height="28" fill="#0a00b2"/>
<rect x="343.44" y="272" width="7.00" height="28" fill="#00800f"/>
<rect x="350.45" y="272" width="0.13" height="28" fill="#0a00b2"/>
<rect x="350.67" y="272" width="7.00" height="28" fill="#0a00b2"/>
<rect x="357.67" y="272" width="0.13" height="28" fill="#00800f"/>
<rect x="357.89" y="272" width="7.00" height="28" fill="#0a00b2"/>
<rect x="364.89" y="272" width="0.13" height="28" fill="#00800f"/>
<rect x="365.11" y="272" width="7.00" height="28" fill="#0a00b2"/>
<rect x="372.11" y="272" width="0.13" height="28" fill="#00800f"/>
<rect x="372.33" y="272" width="7.00" height="28" fill="#00800f"/>
<rect x="379.33" y="272" width="0.13" height="28" fill="#0a00b2"/>
<rect x="379.55" y="272" width="7.00" height="28" fill="#00800f"/>
<rect x="386.56" y="272" width="0.13" height="28" fill="#0a00b2"/>
<rect x="386.78" y="272" width="7.00" height="28" fill="#0a00b2"/>
<rect x="393.78" y="272" width="0.13" height="28" fill="#00800f"/>
<rect x="394.00" y="272" width="7.00" height="28" fill="#0a00b2"/>
<rect x="401.00" y="272" width="0.13" height="28" fill="#00800f"/>
<rect x="401.22" y="272" width="7.00" height="28" fill="#00800f"/>
<rect x="408.22" y="272" width="0.13" height="28" fill="#0a00b2"/>
<rect x="408.44" y="272" width="7.00" height="28" fill="#0a00b2"/>
<rect x="415.44" y="272" width="0.13" height="28" fill="#00800f"/>
<rect x="415.66" y="272" width="7.00" height="28" fill="#00800f"/>
<rect x="422.67" y="272" width="0.13" height="28" fill="#0a00b2"/>
<rect x="422.89" y="272" width="7.00" height="28" fill="#0a00b2"/>
<rect x="429.89" y="272" width="0.13" height="28" fill="#00800f"/>
<rect x="430.11" y="272" width="7.00" height="28" fill="#00800f"/>
<rect x="437.11" y="272" width="0.13" height="28" fill="#0a00b2"/>
<rect x="437.33" y="272" width="7.00" height="28" fill="#0a00b2"/>
<rect x="444.33" y="272" width="0.13" height="28" fill="#00800f"/>
<rect x="444.55" y="272" width="7.00" height="28" fill="#0a00b2"/>
<rect x="451.55" y="272" width="0.13" height="28" fill="#00800f"/>
<rect x="451.77" y="272" width="7.00" height="28" fill="#00800f"/>
<rect x="458.78" y="272" width="0.13" height="28" fill="#0a00b2"/>
<rect x="459.00" y="272" width="7.00" height="28" fill="#0a00b2"/>
<rect x="466.00" y="272" width="0.13" height="28" fill="#00800f"/>
<rect x="466.22" y="272" width="7.00" height="28" fill="#00800f"/>
<rect x="473.22" y="272" width="0.13" height="28" fill="#0a00b2"/>
<rect x="473.44" y="272" width="7.00" height="28" fill="#0a00b2"/>
<rect x="480.44" y="272" width="0.13" height="28" fill="#00800f"/>
<rect x="480.66" y="272" width="7.00" height="28" fill="#00800f"/>
<rect x="487.66" y="272" width="0.13" height="28" fill="#0a00b2"/>
<rect x="487.88" y="272" width="7.00" height="28" fill="#0a00b2"/>
<rect x="494.89" y="272" width="0.13" height="28" fill="#00800f"/>
<rect x="495.11" y="272" width="7.00" height="28" fill="#00800f"/>
<rect x="502.11" y="272" width="0.13" height="28" fill="#0a00b2"/>
<rect x="502.33" y="272" width="7.00" height="28" fill="#0a00b2"/>
<rect x="509.33" y="272" width="0.13" height="28" fill="#00800f"/>
<rect x="509.55" y="272" width="7.00" height="28" fill="#00800f"/>
<rect x="516.55" y="272" width="0.13" height="28" fill="#0a00b2"/>
<rect x="516.77" y="272" width="7.00" height="28" fill="#00800f"/>
<rect x="523.77" y="272" width="0.13" height="28" fill="#0a00b2"/>
<rect x="523.99" y="272" width="7.00" height="28" fill="#0a00b2"/>
<rect x="531.00" y="272" width="0.13" height="28" fill="#00800f"/>
<rect x="531.22" y="272" width="7.00" height="28" fill="#00800f"/>
<rect x="538.22" y="272" width="0.13" height="28" fill="#0a00b2"/>
<rect x="538.44" y="272" width="7.00" height="28" fill="#0a00b2"/>
<rect x="545.44" y="272" width="0.13" height="28" fill="#00800f"/>
<rect x="545.66" y="272" width="7.00" height="28" fill="#00800f"/>
<rect x="552.66" y="272" width="0.13" height="28" fill="#0a00b2"/>
<rect x="552.88" y="272" width="7.00" height="28" fill="#0a00b2"/>
<rect x="559.88" y="272" width="0.13" height="28" fill="#00800f"/>
<rect x="560.10" y="272" width="7.00" height="28" fill="#0a00b2"/>
<rect x="567.11" y="272" width="0.13" height="28" fill="#00800f"/>
<rect x="567.33" y="272" width="7.00" height="28" fill="#0a00b2"/>
<rect x="574.33" y="272" width="0.13" height="28" fill="#00800f"/>
<rect x="574.55" y="272" width="7.00" height="28" fill="#00800f"/>
<rect x="581.55" y="272" width="0.13" height="28" fill="#0a00b2"/>
<rect x="581.77" y="272" width="7.00" height="28" fill="#0a00b2"/>
<rect x="588.77" y="272" width="0.13" height="28" fill="#00800f"/>
<rect x="588.99" y="272" width="7.00" height="28" fill="#0a00b2"/>
<rect x="595.99" y="272" width="0.13" height="28" fill="#00800f"/>
<rect x="596.21" y="272" width="7.00" height="28" fill="#00800f"/>
<rect x="603.22" y="272" width="0.13" height="28" fill="#0a00b2"/>
<rect x="603.44" y="272" width="7.00" height="28" fill="#00800f"/>
<rect x="610.44" y="272" width="0.13" height="28" fill="#0a00b2"/>
<rect x="610.66" y="272" width="7.00" height="28" fill="#0a00b2"/>
<rect x="617.66" y="272" width="0.13" height="28" fill="#00800f"/>
<rect x="617.88" y="272" width="7.00" height="28" fill="#0a00b2"/>
<rect x="624.88" y="272" width="0.13" height="28" fill="#00800f"/>
<rect x="625.10" y="272" width="7.00" height="28" fill="#0a00b2"/>
<rect x="632.10" y="272" width="0.13" height="28" fill="#00800f"/>
<rect x="632.32" y="272" width="7.00" height="28" fill="#00800f"/>
<rect x="639.33" y="272" width="0.13" height="28" fill="#0a00b2"/>
<rect x="639.55" y="272" width="7.00" height="28" fill="#00800f"/>
<rect x="646.55" y="272" width="0.13" height="28" fill="#0a00b2"/>
<rect x="646.77" y="272" width="7.00" height="28" fill="#0a00b2"/>
<rect x="653.77" y="272" width="0.13" height="28" fill="#00800f"/>
<rect x="653.99" y="272" width="7.00" height="28" fill="#00800f"/>
<rect x="660.99" y="272" width="0.13" height="28" fill="#0a00b2"/>
<rect x="661.21" y="272" width="7.00" height="28" fill="#0a00b2"/>
<rect x="668.21" y="272" width="0.13" height="28" fill="#00800f"/>
<rect x="668.43" y="272" width="7.00" height="28" fill="#0a00b2"/>
<rect x="675.44" y="272" width="0.13" height="28" fill="#00800f"/>
<rect x="675.66" y="272" width="7.00" height="28" fill="#0a00b2"/>
<rect x="682.66" y="272" width="0.13" height="28" fill="#00800f"/>
<rect x="682.88" y="272" width="7.00" height="28" fill="#00800f"/>
<rect x="689.88" y="272" width="0.13" height="28" fill="#0a00b2"/>
<rect x="690.10" y="272" width="7.00" height="28" fill="#0a00b2"/>
<rect x="697.10" y="272" width="0.13" height="28" fill="#00800f"/>
<rect x="697.32" y="272" width="7.00" height="28" fill="#0a00b2"/>
<rect x="704.32" y="272" width="0.13" height="28" fill="#00800f"/>
<rect x="704.54" y="272" width="7.00" height="28" fill="#00800f"/>
<rect x="711.55" y="272" width="0.13" height="28" fill="#0a00b2"/>
<rect x="711.77" y="272" width="7.00" height="28" fill="#00800f"/>
<rect x="718.77" y="272" width="0.13" height="28" fill="#0a00b2"/>
<rect x="718.99" y="272" width="7.00" height="28" fill="#00800f"/>
<rect x="725.99" y="272" width="0.13" height="28" fill="#0a00b2"/>
<rect x="726.21" y="272" width="7.00" height="28" fill="#0a00b2"/>
<rect x="733.21" y="272" width="0.13" height="28" fill="#00800f"/>
<rect x="733.43" y="272" width="7.00" height="28" fill="#0a00b2"/>
<rect x="740.43" y="272" width="0.13" height="28" fill="#00800f"/>
<rect x="740.65" y="272" width="7.00" height="28" fill="#00800f"/>
<rect x="747.66" y="272" width="0.13" height="28" fill="#0a00b2"/>
<rect x="747.88" y="272" width="7.00" height="28" fill="#0a00b2"/>
<rect x="754.88" y="272" width="0.13" height="28" fill="#00800f"/>
<rect x="755.10" y="272" width="7.00" height="28" fill="#00800f"/>
<rect x="762.10" y="272" width="0.13" height="28" fill="#0a00b2"/>
<rect x="762.32" y="272" width="7.00" height="28" fill="#00800f"/>
<rect x="769.32" y="272" width="0.13" height="28" fill="#0a00b2"/>
<rect x="769.54" y="272" width="7.00" height="28" fill="#0a00b2"/>
<rect x="776.54" y="272" width="0.13" height="28" fill="#00800f"/>
<rect x="776.76" y="272" width="7.00" height="28" fill="#0a00b2"/>
<rect x="783.77" y="272" width="0.13" height="28" fill="#00800f"/>
<rect x="783.99" y="272" width="7.22" height="28" fill="#00800f"/>
<rect x="780" y="720.1" width="10.2" height="15" fill="#ffe97d"/>
<rect x="148.5" y="720.1" width="634.7" height="15" fill="#ffe045"/>
<rect x="155.37" y="727.6" width="0.6" height="7.5" fill="#fff" fill-opacity="0.5"/>
<rect x="162.59" y="720.1" width="0.6" height="7.5" fill="#fff" fill-opacity="0.5"/>
<rect x="169.81" y="720.1" width="0.6" height="15" fill="#fff" fill-opacity="0.3"/>
<rect x="177.03" y="727.6" width="0.6" height="7.5" fill="#fff" fill-opacity="0.5"/>
<rect x="184.24" y="720.1" width="0.6" height="7.5" fill="#fff" fill-opacity="0.5"/>
<rect x="191.46" y="720.1" width="0.6" height="15" fill="#fff" fill-opacity="0.3"/>
<rect x="198.68" y="727.6" width="0.6" height="7.5" fill="#fff" fill-opacity="0.5"/>
<rect x="205.90" y="720.1" width="0.6" height="7.5" fill="#fff" fill-opacity="0.5"/>
<rect x="213.12" y="720.1" width="0.6" height="15" fill="#fff" fill-opacity="0.3"/>
<rect x="220.34" y="727.6" width="0.6" height="7.5" fill="#fff" fill-opacity="0.5"/>
<rect x="227.56" y="720.1" width="0.6" height="7.5" fill="#fff" fill-opacity="0.5"/>
<rect x="234.78" y="720.1" width="0.6" height="15" fill="#fff" fill-opacity="0.3"/>
<rect x="242.00" y="727.6" width="0.6" height="7.5" fill="#fff" fill-opacity="0.5"/>
<rect x="249.22" y="720.1" width="0.6" height="7.5" fill="#fff" fill-opacity="0.5"/>
<rect x="256.44" y="720.1" width="0.6" height="15" fill="#fff" fill-opacity="0.3"/>
<rect x="263.65" y="727.6" width="0.6" height="7.5" fill="#fff" fill-opacity="0.5"/>
<rect x="270.87" y="720.1" width="0.6" height="7.5" fill="#fff" fill-opacity="0.5"/>
<rect x="278.09" y="720.1" width="0.6" height="15" fill="#fff" fill-opacity="0.3"/>
<rect x="285.31" y="727.6" width="0.6" height="7.5" fill="#fff" fill-opacity="0.5"/>
<rect x="292.53" y="720.1" width="0.6" height="7.5" fill="#fff" fill-opacity="0.5"/>
<rect x="299.75" y="720.1" width="0.6" height="15" fill="#fff" fill-opacity="0.3"/>
<rect x="306.97" y="727.6" width="0.6" height="7.5" fill="#fff" fill-opacity="0.5"/>
<rect x="314.19" y="720.1" width="0.6" height="7.5" fill="#fff" fill-opacity="0.5"/>
<rect x="321.41" y="720.1" width="0.6" height="15" fill="#fff" fill-opacity="0.3"/>
<rect x="328.62" y="727.6" width="0.6" height="7.5" fill="#fff" fill-opacity="0.5"/>
<rect x="335.84" y="720.1" width="0.6" height="7.5" fill="#fff" fill-opacity="0.5"/>
<rect x="343.06" y="720.1" width="0.6" height="15" fill="#fff" fill-opacity="0.3"/>
<rect x="350.28" y="727.6" width="0.6" height="7.5" fill="#fff" fill-opacity="0.5"/>
<rect x="357.50" y="720.1" width="0.6" height="7.5" fill="#fff" fill-opacity="0.5"/>
<rect x="364.72" y="720.1" width="0.6" height="15" fill="#fff" fill-opacity="0.3"/>
<rect x="371.94" y="727.6" width="0.6" height="7.5" fill="#fff" fill-opacity="0.5"/>
<rect x="379.16" y="720.1" width="0.6" height="7.5" fill="#fff" fill-opacity="0.5"/>
<rect x="386.38" y="720.1" width="0.6" height="15" fill="#fff" fill-opacity="0.3"/>
<rect x="393.60" y="727.6" width="0.6" height="7.5" fill="#fff" fill-opacity="0.5"/>
<rect x="400.81" y="720.1" width="0.6" height="7.5" fill="#fff" fill-opacity="0.5"/>
<rect x="408.03" y="720.1" width="0.6" height="15" fill="#fff" fill-opacity="0.3"/>
<rect x="415.25" y="727.6" width="0.6" height="7.5" fill="#fff" fill-opacity="0.5"/>
<rect x="422.47" y="720.1" width="0.6" height="7.5" fill="#fff" fill-opacity="0.5"/>
<rect x="429.69" y="720.1" width="0.6" height="15" fill="#fff" fill-opacity="0.3"/>
<rect x="436.91" y="727.6" width="0.6" height="7.5" fill="#fff" fill-opacity="0.5"/>
<rect x="444.13" y="720.1" width="0.6" height="7.5" fill="#fff" fill-opacity="0.5"/>
<rect x="451.35" y="720.1" width="0.6" height="15" fill="#fff" fill-opacity="0.3"/>
<rect x="458.57" y="727.6" width="0.6" height="7.5" fill="#fff" fill-opacity="0.5"/>
<rect x="465.79" y="720.1" width="0.6" height="7.5" fill="#fff" fill-opacity="0.5"/>
<rect x="473.00" y="720.1" width="0.6" height="15" fill="#fff" fill-opacity="0.3"/>
<rect x="480.22" y="727.6" width="0.6" height="7.5" fill="#fff" fill-opacity="0.5"/>
<rect x="487.44" y="720.1" width="0.6" height="7.5" fill="#fff" fill-opacity="0.5"/>
<rect x="494.66" y="720.1" width="0.6" height="15" fill="#fff" fill-opacity="0.3"/>
<rect x="501.88" y="727.6" width="0.6" height="7.5" fill="#fff" fill-opacity="0.5"/>
<rect x="509.10" y="720.1" width="0.6" height="7.5" fill="#fff" fill-opacity="0.5"/>
<rect x="516.32" y="720.1" width="0.6" height="15" fill="#fff" fill-opacity="0.3"/>
<rect x="523.54" y="727.6" width="0.6" height="7.5" fill="#fff" fill-opacity="0.5"/>
<rect x="530.76" y="720.1" width="0.6" height="7.5" fill="#fff" fill-opacity="0.5"/>
<rect x="537.98" y="720.1" width="0.6" height="15" fill="#fff" fill-opacity="0.3"/>
<rect x="545.20" y="727.6" width="0.6" height="7.5" fill="#fff" fill-opacity="0.5"/>
<rect x="552.41" y="720.1" width="0.6" height="7.5" fill="#fff" fill-opacity="0.5"/>
<rect x="559.63" y="720.1" width="0.6" height="15" fill="#fff" fill-opacity="0.3"/>
<rect x="566.85" y="727.6" width="0.6" height="7.5" fill="#fff" fill-opacity="0.5"/>
<rect x="574.07" y="720.1" width="0.6" height="7.5" fill="#fff" fill-opacity="0.5"/>
<rect x="581.29" y="720.1" width="0.6" height="15" fill="#fff" fill-opacity="0.3"/>
<rect x="588.51" y="727.6" width="0.6" height="7.5" fill="#fff" fill-opacity="0.5"/>
<rect x="595.73" y="720.1" width="0.6" height="7.5" fill="#fff" fill-opacity="0.5"/>
<rect x="602.95" y="720.1" width="0.6" height="15" fill="#fff" fill-opacity="0.3"/>
<rect x="610.17" y="727.6" width="0.6" height="7.5" fill="#fff" fill-opacity="0.5"/>
<rect x="617.38" y="720.1" width="0.6" height="7.5" fill="#fff" fill-opacity="0.5"/>
<rect x="624.60" y="720.1" width="0.6" height="15" fill="#fff" fill-opacity="0.3"/>
<rect x="631.82" y="727.6" width="0.6" height="7.5" fill="#fff" fill-opacity="0.5"/>
<rect x="639.04" y="720.1" width="0.6" height="7.5" fill="#fff" fill-opacity="0.5"/>
<rect x="646.26" y="720.1" width="0.6" height="15" fill="#fff" fill-opacity="0.3"/>
<rect x="653.48" y="727.6" width="0.6" height="7.5" fill="#fff" fill-opacity="0.5"/>
<rect x="660.70" y="720.1" width="0.6" height="7.5" fill="#fff" fill-opacity="0.5"/>
<rect x="667.92" y="720.1" width="0.6" height="15" fill="#fff" fill-opacity="0.3"/>
<rect x="675.14" y="727.6" width="0.6" height="7.5" fill="#fff" fill-opacity="0.5"/>
<rect x="682.36" y="720.1" width="0.6" height="7.5" fill="#fff" fill-opacity="0.5"/>
<rect x="689.58" y="720.1" width="0.6" height="15" fill="#fff" fill-opacity="0.3"/>
<rect x="696.79" y="727.6" width="0.6" height="7.5" fill="#fff" fill-opacity="0.5"/>
<rect x="704.01" y="720.1" width="0.6" height="7.5" fill="#fff" fill-opacity="0.5"/>
<rect x="711.23" y="720.1" width="0.6" height="15" fill="#fff" fill-opacity="0.3"/>
<rect x="718.45" y="727.6" width="0.6" height="7.5" fill="#fff" fill-opacity="0.5"/>
<rect x="725.67" y="720.1" width="0.6" height="7.5" fill="#fff" fill-opacity="0.5"/>
<rect x="732.89" y="720.1" width="0.6" height="15" fill="#fff" fill-opacity="0.3"/>
<rect x="740.11" y="727.6" width="0.6" height="7.5" fill="#fff" fill-opacity="0.5"/>
<rect x="747.33" y="720.1" width="0.6" height="7.5" fill="#fff" fill-opacity="0.5"/>
<rect x="754.55" y="720.1" width="0.6" height="15" fill="#fff" fill-opacity="0.3"/>
<rect x="761.77" y="727.6" width="0.6" height="7.5" fill="#fff" fill-opacity="0.5"/>
<rect x="768.98" y="720.1" width="0.6" height="7.5" fill="#fff" fill-opacity="0.5"/>
<rect x="776.20" y="727.6" width="0.6" height="7.5" fill="#fff" fill-opacity="0.5"/>
<rect x="148" y="68" width="1" height="246" fill="#262626"/>
<rect x="148" y="313" width="643" height="1" fill="#262626"/>
<rect x="148" y="512" width="1" height="247" fill="#262626"/>
<rect x="148" y="758" width="643" height="1" fill="#262626"/>
<rect x="148.00" y="752.5" width="1" height="6" fill="#262626"/><rect x="211.60" y="752.5" width="1" height="6" fill="#262626"/><rect x="275.20" y="752.5" width="1" height="6" fill="#262626"/><rect x="338.80" y="752.5" width="1" height="6" fill="#262626"/><rect x="402.40" y="752.5" width="1" height="6" fill="#262626"/><rect x="466.00" y="752.5" width="1" height="6" fill="#262626"/><rect x="529.60" y="752.5" width="1" height="6" fill="#262626"/><rect x="593.20" y="752.5" width="1" height="6" fill="#262626"/><rect x="656.80" y="752.5" width="1" height="6" fill="#262626"/><rect x="720.40" y="752.5" width="1" height="6" fill="#262626"/><rect x="783.99" y="752.5" width="1" height="6" fill="#262626"/>
<rect x="149" y="758.00" width="6" height="1" fill="#262626"/><rect x="149" y="739.12" width="6" height="1" fill="#262626"/><rect x="149" y="720.23" width="6" height="1" fill="#262626"/><rect x="149" y="701.35" width="6" height="1" fill="#262626"/><rect x="149" y="682.46" width="6" height="1" fill="#262626"/><rect x="149" y="663.58" width="6" height="1" fill="#262626"/><rect x="149" y="644.69" width="6" height="1" fill="#262626"/><rect x="149" y="625.81" width="6" height="1" fill="#262626"/><rect x="149" y="606.92" width="6" height="1" fill="#262626"/><rect x="149" y="588.04" width="6" height="1" fill="#262626"/><rect x="149" y="569.15" width="6" height="1" fill="#262626"/><rect x="149" y="550.27" width="6" height="1" fill="#262626"/><rect x="149" y="531.38" width="6" height="1" fill="#262626"/><rect x="149" y="512.50" width="6" height="1" fill="#262626"/>
<rect x="18" y="439" width="1" height="6" fill="#b6b6b6"/>
<rect x="25" y="439" width="1" height="3" fill="#b6b6b6"/>
<rect x="32" y="439" width="1" height="3" fill="#b6b6b6"/>
<rect x="39" y="439" width="1" height="3" fill="#b6b6b6"/>
<rect x="46" y="439" width="1" height="3" fill="#b6b6b6"/>
<rect x="53" y="439" width="1" height="3" fill="#b6b6b6"/>
<rect x="61" y="439" width="1" height="3" fill="#b6b6b6"/>
<rect x="68" y="439" width="1" height="3" fill="#b6b6b6"/>
<rect x="75" y="439" width="1" height="3" fill="#b6b6b6"/>
<rect x="82" y="439" width="1" height="3" fill="#b6b6b6"/>
<rect x="89" y="439" width="1" height="6" fill="#b6b6b6"/>
<rect x="97" y="439" width="1" height="3" fill="#b6b6b6"/>
<rect x="104" y="439" width="1" height="3" fill="#b6b6b6"/>
<rect x="111" y="439" width="1" height="3" fill="#b6b6b6"/>
<rect x="118" y="439" width="1" height="3" fill="#b6b6b6"/>
<rect x="125" y="439" width="1" height="3" fill="#b6b6b6"/>
<rect x="133" y="439" width="1" height="3" fill="#b6b6b6"/>
<rect x="140" y="439" width="1" height="3" fill="#b6b6b6"/>
<rect x="147" y="439" width="1" height="3" fill="#b6b6b6"/>
<rect x="154" y="439" width="1" height="3" fill="#b6b6b6"/>
<rect x="161" y="439" width="1" height="6" fill="#b6b6b6"/>
<rect x="168" y="439" width="1" height="3" fill="#b6b6b6"/>
<rect x="176" y="439" width="1" height="3" fill="#b6b6b6"/>
<rect x="183" y="439" width="1" height="3" fill="#b6b6b6"/>
<rect x="190" y="439" width="1" height="3" fill="#b6b6b6"/>
<rect x="197" y="439" width="1" height="3" fill="#b6b6b6"/>
<rect x="204" y="439" width="1" height="3" fill="#b6b6b6"/>
<rect x="212" y="439" width="1" height="3" fill="#b6b6b6"/>
<rect x="219" y="439" width="1" height="3" fill="#b6b6b6"/>
<rect x="226" y="439" width="1" height="3" fill="#b6b6b6"/>
<rect x="233" y="439" width="1" height="6" fill="#b6b6b6"/>
<rect x="240" y="439" width="1" height="3" fill="#b6b6b6"/>
<rect x="248" y="439" width="1" height="3" fill="#b6b6b6"/>
<rect x="255" y="439" width="1" height="3" fill="#b6b6b6"/>
<rect x="262" y="439" width="1" height="3" fill="#b6b6b6"/>
<rect x="269" y="439" width="1" height="3" fill="#b6b6b6"/>
<rect x="276" y="439" width="1" height="3" fill="#b6b6b6"/>
<rect x="284" y="439" width="1" height="3" fill="#b6b6b6"/>
<rect x="291" y="439" width="1" height="3" fill="#b6b6b6"/>
<rect x="298" y="439" width="1" height="3" fill="#b6b6b6"/>
<rect x="305" y="439" width="1" height="6" fill="#b6b6b6"/>
<rect x="312" y="439" width="1" height="3" fill="#b6b6b6"/>
<rect x="319" y="439" width="1" height="3" fill="#b6b6b6"/>
<rect x="327" y="439" width="1" height="3" fill="#b6b6b6"/>
<rect x="334" y="439" width="1" height="3" fill="#b6b6b6"/>
<rect x="341" y="439" width="1" height="3" fill="#b6b6b6"/>
<rect x="348" y="439" width="1" height="3" fill="#b6b6b6"/>
<rect x="355" y="439" width="1" height="3" fill="#b6b6b6"/>
<rect x="363" y="439" width="1" height="3" fill="#b6b6b6"/>
<rect x="370" y="439" width="1" height="3" fill="#b6b6b6"/>
<rect x="377" y="439" width="1" height="6" fill="#b6b6b6"/>
<rect x="414" y="439" width="1" height="6" fill="#b6b6b6"/>
<rect x="421" y="439" width="1" height="3" fill="#b6b6b6"/>
<rect x="428" y="439" width="1" height="3" fill="#b6b6b6"/>
<rect x="436" y="439" width="1" height="3" fill="#b6b6b6"/>
<rect x="443" y="439" width="1" height="3" fill="#b6b6b6"/>
<rect x="450" y="439" width="1" height="3" fill="#b6b6b6"/>
<rect x="457" y="439" width="1" height="3" fill="#b6b6b6"/>
<rect x="465" y="439" width="1" height="3" fill="#b6b6b6"/>
<rect x="472" y="439" width="1" height="3" fill="#b6b6b6"/>
<rect x="479" y="439" width="1" height="3" fill="#b6b6b6"/>
<rect x="487" y="439" width="1" height="6" fill="#b6b6b6"/>
<rect x="494" y="439" width="1" height="3" fill="#b6b6b6"/>
<rect x="501" y="439" width="1" height="3" fill="#b6b6b6"/>
<rect x="508" y="439" width="1" height="3" fill="#b6b6b6"/>
<rect x="516" y="439" width="1" height="3" fill="#b6b6b6"/>
<rect x="523" y="439" width="1" height="3" fill="#b6b6b6"/>
<rect x="530" y="439" width="1" height="3" fill="#b6b6b6"/>
<rect x="537" y="439" width="1" height="3" fill="#b6b6b6"/>
<rect x="545" y="439" width="1" height="3" fill="#b6b6b6"/>
<rect x="552" y="439" width="1" height="3" fill="#b6b6b6"/>
<rect x="559" y="439" width="1" height="6" fill="#b6b6b6"/>
<rect x="566" y="439" width="1" height="3" fill="#b6b6b6"/>
<rect x="574" y="439" width="1" height="3" fill="#b6b6b6"/>
<rect x="581" y="439" width="1" height="3" fill="#b6b6b6"/>
<rect x="588" y="439" width="1" height="3" fill="#b6b6b6"/>
<rect x="595" y="439" width="1" height="3" fill="#b6b6b6"/>
<rect x="603" y="439" width="1" height="3" fill="#b6b6b6"/>
<rect x="610" y="439" width="1" height="3" fill="#b6b6b6"/>
<rect x="617" y="439" width="1" height="3" fill="#b6b6b6"/>
<rect x="624" y="439" width="1" height="3" fill="#b6b6b6"/>
<rect x="632" y="439" width="1" height="6" fill="#b6b6b6"/>
<rect x="639" y="439" width="1" height="3" fill="#b6b6b6"/>
<rect x="646" y="439" width="1" height="3" fill="#b6b6b6"/>
<rect x="653" y="439" width="1" height="3" fill="#b6b6b6"/>
<rect x="661" y="439" width="1" height="3" fill="#b6b6b6"/>
<rect x="668" y="439" width="1" height="3" fill="#b6b6b6"/>
<rect x="675" y="439" width="1" height="3" fill="#b6b6b6"/>
<rect x="683" y="439" width="1" height="3" fill="#b6b6b6"/>
<rect x="690" y="439" width="1" height="3" fill="#b6b6b6"/>
<rect x="697" y="439" width="1" height="3" fill="#b6b6b6"/>
<rect x="704" y="439" width="1" height="6" fill="#b6b6b6"/>
<rect x="712" y="439" width="1" height="3" fill="#b6b6b6"/>
<rect x="719" y="439" width="1" height="3" fill="#b6b6b6"/>
<rect x="726" y="439" width="1" height="3" fill="#b6b6b6"/>
<rect x="733" y="439" width="1" height="3" fill="#b6b6b6"/>
<rect x="741" y="439" width="1" height="3" fill="#b6b6b6"/>
<rect x="748" y="439" width="1" height="3" fill="#b6b6b6"/>
<rect x="755" y="439" width="1" height="3" fill="#b6b6b6"/>
<rect x="762" y="439" width="1" height="3" fill="#b6b6b6"/>
<rect x="770" y="439" width="1" height="3" fill="#b6b6b6"/>
<rect x="777" y="439" width="1" height="6" fill="#b6b6b6"/>
</svg>

<div class="nl" style="top:87px">STA2 6085 MHz</div>
<div class="nl" style="top:150px">AP2 6085 MHz</div>
<div class="nl" style="top:213.5px">STA1 6065 MHz</div>
<div class="nl" style="top:277px">AP1 6065 MHz</div>
<div class="al" style="left:-31.5px;top:181.7px;width:120px;transform:rotate(-90deg)">Node Names</div>
<div class="xl" style="left:118.50px;top:318.2px">0</div><div class="xl" style="left:182.10px;top:318.2px">0.05</div><div class="xl" style="left:245.70px;top:318.2px">0.1</div><div class="xl" style="left:309.30px;top:318.2px">0.15</div><div class="xl" style="left:372.90px;top:318.2px">0.2</div><div class="xl" style="left:436.50px;top:318.2px">0.25</div><div class="xl" style="left:500.10px;top:318.2px">0.3</div><div class="xl" style="left:563.70px;top:318.2px">0.35</div><div class="xl" style="left:627.30px;top:318.2px">0.4</div><div class="xl" style="left:690.90px;top:318.2px">0.45</div><div class="xl" style="left:754.49px;top:318.2px">0.5</div>
<div class="al" style="left:149px;width:643px;top:336.7px">Time (seconds)</div>

<div class="yl" style="top:749.50px">5900</div><div class="yl" style="top:730.62px">6000</div><div class="yl" style="top:711.73px">6100</div><div class="yl" style="top:692.85px">6200</div><div class="yl" style="top:673.96px">6300</div><div class="yl" style="top:655.08px">6400</div><div class="yl" style="top:636.19px">6500</div><div class="yl" style="top:617.31px">6600</div><div class="yl" style="top:598.42px">6700</div><div class="yl" style="top:579.54px">6800</div><div class="yl" style="top:560.65px">6900</div><div class="yl" style="top:541.77px">7000</div><div class="yl" style="top:522.88px">7100</div><div class="yl" style="top:504.00px">7200</div>
<div class="xl" style="left:118.50px;top:763.2px">0</div><div class="xl" style="left:182.10px;top:763.2px">0.05</div><div class="xl" style="left:245.70px;top:763.2px">0.1</div><div class="xl" style="left:309.30px;top:763.2px">0.15</div><div class="xl" style="left:372.90px;top:763.2px">0.2</div><div class="xl" style="left:436.50px;top:763.2px">0.25</div><div class="xl" style="left:500.10px;top:763.2px">0.3</div><div class="xl" style="left:563.70px;top:763.2px">0.35</div><div class="xl" style="left:627.30px;top:763.2px">0.4</div><div class="xl" style="left:690.90px;top:763.2px">0.45</div><div class="xl" style="left:754.49px;top:763.2px">0.5</div>
<div class="al" style="left:38.8px;top:627.5px;width:120px;transform:rotate(-90deg)">Frequency (MHz)</div>
<div class="al" style="left:149px;width:643px;top:781.7px">Time (seconds)</div>

<div class="fl" style="left:10px">Min Time</div>
<div class="inp" style="left:82px;width:77px">0</div>
<div class="fl" style="left:644px">Max Time</div>
<div class="inp" style="left:719px;width:77px">0.5048</div>

<!-- sliders -->
<div style="left:24px;top:427px;width:354px;height:6px;border:1px solid #cfcfcf;background:#f9f9f9"></div>
<div style="left:414px;top:427px;width:362px;height:6px;border:1px solid #cfcfcf;background:#dfdfdf"></div>
<svg width="1088" height="819" viewBox="0 0 1088 819">
<path d="M11.5 423.5 h14 v9 h-3 l-4 4 l-4 -4 h-3 z" fill="#f9f9f9" stroke="#c6c6c6" stroke-width="1"/>
<rect x="14" y="426" width="9" height="1" fill="#c6c6c6"/>
<path d="M770.5 423.5 h14 v9 h-3 l-4 4 l-4 -4 h-3 z" fill="#f9f9f9" stroke="#c6c6c6" stroke-width="1"/>
<rect x="773" y="426" width="9" height="1" fill="#c6c6c6"/>
</svg>
<div class="sl" style="left:-12.20px">0</div><div class="sl" style="left:59.64px">0.101</div><div class="sl" style="left:131.48px">0.202</div><div class="sl" style="left:203.32px">0.303</div><div class="sl" style="left:275.16px">0.404</div><div class="sl" style="left:347.00px">0.5048</div><div class="sl" style="left:384.00px">0</div><div class="sl" style="left:456.54px">0.101</div><div class="sl" style="left:529.08px">0.202</div><div class="sl" style="left:601.62px">0.303</div><div class="sl" style="left:674.16px">0.404</div><div class="sl" style="left:746.70px">0.5048</div>

<div class="panel" style="top:10px;height:272px"></div>
<div class="panel" style="top:291px;height:213px"></div>
<div class="panel" style="top:514px;height:295px"></div>
<div style="left:817px;top:23px;font-weight:bold;font-size:14px;line-height:16px;color:#212121">Operating States</div>
<div class="sw" style="top:51px;background:#00800f"></div><div class="lt" style="top:51px">Transmission</div><div class="sw" style="top:81px;background:#ffffff"></div><div class="lt" style="top:81px">Idle/EIFS/SIFS</div><div class="sw" style="top:111px;background:#edb120"></div><div class="lt" style="top:111px">Contention</div><div class="sw" style="top:141px;background:#0a00b2"></div><div class="lt" style="top:141px">Reception (Destined to node)</div><div class="sw" style="top:171px;background:#ffdab9"></div><div class="lt" style="top:171px">Reception</div><div class="sw" style="top:201px;background:#b42f2c"></div><div class="lt" style="top:201px">Reception Failure</div>
<div style="left:817px;top:341px;width:14px;height:14px;border:1px solid #666;background:#fbfbfb"></div>
<svg width="1088" height="819" viewBox="0 0 1088 819"><path d="M819.4 348.5 L822.5 351.6 L828.5 343.7" fill="none" stroke="#1f1f1f" stroke-width="2.1"/></svg>
<div style="left:834px;top:338.7px;font-size:14px;line-height:18px;color:#2b2b2b">Full view</div>
<div style="left:817px;top:403px;width:73px;height:90px;border:1px solid #7d7d7d;border-radius:5px;font-size:14px;line-height:86px;text-align:center;color:#2b2b2b">Export</div>
<div class="sw" style="top:525px;background:#ffd60a"></div><div class="lt" style="top:524px">WLAN</div>
</body></html>
